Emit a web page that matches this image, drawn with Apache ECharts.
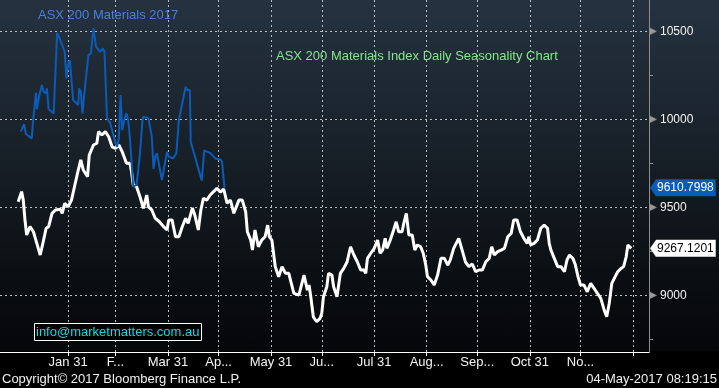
<!DOCTYPE html>
<html><head><meta charset="utf-8">
<script src="https://cdn.jsdelivr.net/npm/echarts@6/dist/echarts.min.js"></script>
<style>
html,body{margin:0;padding:0;background:#000;}
#c{width:719px;height:388px;background:linear-gradient(to bottom,#253240 0px,#1a232c 130px,#0c1115 260px,#050608 351px,#000 352px,#000 388px);}
</style></head><body><div id="c"></div>
<script>
// ---- data ----
const monthEnds = [31,59,90,120,151,181,212,243,273,304,334,365];
const monthLabels = ['Jan 31','F...','Mar 31','Ap...','May 31','Ju...','Jul 31','Aug...','Sep...','Oct 31','No...',''];
const yMajor = [9000,9500,10000,10500];
const yTicks = [8750,9000,9250,9500,9750,10000,10250,10500];

const blueDays = [3,4,5,6,9.5,10.5,12,12.5,14,15.5,16.5,18,18.5,19.5,22.5,24.5,26,29,30,31,32,34,37,37.5,38.5,39.5,41,43,44.5,46,46.5,47.5,50,51.5,52.5,54,56,59,60,61,62,63,64.5,65.5,66.5,67.5,69.5,71.5,73.5,75,75.5,78.5,80.5,81.5,82.5,83.5,86.5,89.5,90.5,93,95,96.5,97.5,100.5,101.5,103,103.5,110,111.5,115,118,121,122,123.5];
const blueVals = [9930,9939,9973,9917,9892,10015,10151,10057,10138,10195,10157,10148,10176,10057,10034,10492,10460,10384,10233,10309,10337,10110,10081,10176,10157,10034,10185,10365,10375,10517,10507,10413,10384,10403,10384,10006,9977,9864,9844,9892,10138,9939,10006,10034,9996,9901,9617,9627,9807,9996,10015,10007,9901,9718,9788,9807,9655,9816,9788,9778,9807,9996,9996,10185,10167,10167,9873,9652,9823,9809,9778,9772,9759,9610.7998];

const whiteDays = [1.5,3.5,4.5,5.5,6.5,8.5,10.5,12.5,14.5,15.5,16.5,18,19.5,21.5,23.5,26.5,27.5,29,31,33,35,37,38.5,40,42.5,43.5,46,48,49,51,53,55,57,59,61,63,64,65.5,67.5,68.5,69.5,71.5,73.5,75.5,77.5,78.5,80.5,82.5,85,87.5,89.5,90.5,92.5,94.5,96.5,98.5,100.5,102,104.5,106,108,109.5,111,113,115,117,119,121,123,125,127,129,132,134,136,137,139,140,141.5,143.5,145.5,147.5,149,150,151.5,153.5,155.5,157.5,159.5,161.5,162.5,164.5,167.5,168.5,170.5,172.5,173.5,174.5,176,178,180,181,182,184,185,187,188,190,192,194,196,198,200,202,204,206,207,208,210,212,214,215.5,217,218.5,219.5,221.5,223.5,225,226.5,228.5,229.5,231,232.5,234.5,236,237.5,239.5,241,242.5,243.5,245.5,247.5,249.5,251.5,253.5,255.5,257,259,262,264,266,268,270,272,274,276,278,280,281.5,283,285,287,289,291,293,294.5,296.5,298.5,300.5,302.5,303.5,304.5,306.5,308.5,310.5,312.5,314.5,315.5,316.5,318.5,320.5,322.5,324.5,326,327.5,329.5,331,332.5,334,336,338,340,342,344,346,348,349.5,351,352.5,354.5,356,358,359.5,361,362,364];
const whiteVals = [9532,9589,9541,9428,9343,9390,9361,9295,9229,9239,9314,9381,9390,9466,9485,9489,9466,9523,9503,9541,9627,9712,9769,9712,9674,9797,9854,9864,9930,9911,9930,9901,9844,9835,9854,9816,9807,9750,9750,9702,9627,9617,9560,9494,9570,9503,9485,9438,9418,9390,9371,9428,9428,9333,9333,9390,9438,9409,9496,9453,9371,9485,9551,9541,9570,9589,9608,9587,9604,9524,9541,9466,9541,9541,9475,9361,9314,9257,9371,9276,9314,9333,9399,9333,9314,9163,9106,9163,9125,9125,9087,9011,9002,9002,9115,9030,9059,8992,8878,8850,8869,8898,8992,9049,9125,9115,9049,8992,9125,9153,9191,9276,9229,9191,9144,9144,9125,9210,9239,9267,9314,9239,9257,9324,9267,9314,9371,9418,9361,9361,9409,9466,9343,9343,9257,9286,9276,9239,9172,9106,9087,9059,9115,9210,9210,9172,9201,9267,9324,9257,9189,9163,9178,9134,9144,9144,9191,9210,9276,9229,9248,9257,9267,9333,9352,9428,9428,9361,9324,9295,9333,9286,9295,9314,9381,9399,9381,9295,9257,9210,9163,9163,9134,9201,9229,9210,9172,9106,9059,9059,9020,9068,9040,9011,8983,8916,8878,8955,9068,9106,9134,9153,9163,9219,9286,9267.1201];

const titleBlue = 'ASX 200 Materials 2017';
const titleGreen = 'ASX 200 Materials Index Daily Seasonality Chart';
const emailText = 'info@marketmatters.com.au';
const copyText = 'Copyright\u00A9 2017 Bloomberg Finance L.P.';
const stampText = '04-May-2017 08:19:15';

// ---- helpers ----
const FONT = '"Liberation Sans", Arial, sans-serif';
const BLUE = '#0a5cb8';
function arrowImg(color, w, h, dir) {
  const c = document.createElement('canvas');
  c.width = w; c.height = h;
  const g = c.getContext('2d');
  g.fillStyle = color;
  g.beginPath();
  if (dir === 'left') { g.moveTo(w, 0); g.lineTo(0, h / 2); g.lineTo(w, h); }
  else { g.moveTo(0, 0); g.lineTo(w, h / 2); g.lineTo(0, h); }
  g.closePath(); g.fill();
  return c;
}
const blueArrow = arrowImg(BLUE, 6, 17, 'left');
const whiteArrow = arrowImg('#ffffff', 6, 17, 'left');
const tickArrow = arrowImg('#9a9a9a', 7, 7, 'right');

const chart = echarts.init(document.getElementById('c'), null, {renderer: 'canvas'});
const gridLine = {show: true, lineStyle: {color: '#b8bcc0', width: 1, type: [2, 3]}};

function valueBox(arrow, bg, fg, val) {
  return {
    silent: true, symbol: 'none',
    lineStyle: {color: 'rgba(0,0,0,0)', width: 0, opacity: 1},
    data: [{yAxis: val}],
    label: {
      show: true, position: 'end', distance: 1, opacity: 1,
      formatter: () => '{a|}{b|' + val.toFixed(4) + '}',
      rich: {
        a: {width: 6, height: 17, backgroundColor: {image: arrow}},
        b: {backgroundColor: bg, color: fg, fontSize: 12, fontFamily: FONT, height: 17, lineHeight: 17, padding: [0, 2, 0, 1]}
      }
    }
  };
}

chart.setOption({
  backgroundColor: 'transparent',
  animation: false,
  grid: {left: 0, right: 70, top: 0, bottom: 36, containLabel: false, outerBoundsMode: 'none'},
  title: [
    {text: titleBlue, left: 38, top: 9, padding: 0, textStyle: {color: '#4a80d8', fontSize: 13, fontWeight: 'normal', fontFamily: FONT}},
    {text: titleGreen, left: 276, top: 50, padding: 0, textStyle: {color: '#86e58c', fontSize: 13, fontWeight: 'normal', fontFamily: FONT}},
    {text: emailText, left: 34, top: 323, padding: [3, 2, 2, 2], borderColor: '#ffffff', borderWidth: 1, backgroundColor: '#000000',
      textStyle: {color: '#1cd4e4', fontSize: 13, fontWeight: 'normal', fontFamily: FONT}},
    {text: copyText, left: 2, top: 373, padding: 0, textStyle: {color: '#f0f0f0', fontSize: 13, fontWeight: 'normal', fontFamily: FONT}},
    {text: stampText, right: 2, top: 373, padding: 0, textStyle: {color: '#f0f0f0', fontSize: 13, fontWeight: 'normal', fontFamily: FONT}}
  ],
  xAxis: {
    type: 'value', min: -9.27, max: 374.5,
    axisLine: {show: true, onZero: false, lineStyle: {color: '#ffffff', width: 1}},
    axisTick: {show: true, length: 4, lineStyle: {color: '#ffffff'}, customValues: monthEnds},
    axisLabel: {show: true, customValues: monthEnds, margin: 4, color: '#f4f4f4', fontSize: 13, fontFamily: FONT,
      formatter: v => monthLabels[monthEnds.indexOf(Math.round(v))] || ''},
    splitLine: gridLine
  },
  yAxis: [
    {
      type: 'value', position: 'right', min: 8678, max: 10678,
      axisLine: {show: true, onZero: false, lineStyle: {color: '#8e8e8e', width: 1}},
      axisTick: {show: false, customValues: yMajor},
      axisLabel: {show: true, customValues: yMajor, margin: 1,
        formatter: v => '{t|}{v|' + v + '}',
        rich: {
          t: {width: 7, height: 7, backgroundColor: {image: tickArrow}},
          v: {color: '#f2f2f2', fontSize: 12, fontFamily: FONT, padding: [0, 0, 0, 3]}
        }},
      splitLine: gridLine
    },
    {
      type: 'value', position: 'right', min: 8678, max: 10678,
      axisLine: {show: true, onZero: false, lineStyle: {color: '#8e8e8e', width: 1}},
      axisTick: {show: true, customValues: yTicks, length: 4, lineStyle: {color: '#8e8e8e'}},
      axisLabel: {show: false},
      splitLine: {show: false}
    }
  ],
  series: [
    {
      name: 'Seasonality', type: 'line', yAxisIndex: 0, showSymbol: false, symbol: 'none',
      lineStyle: {color: '#ffffff', width: 3}, z: 3,
      data: whiteDays.map((d, i) => [d, whiteVals[i]]),
      markLine: valueBox(whiteArrow, '#ffffff', '#000000', whiteVals[whiteVals.length - 1])
    },
    {
      name: '2017', type: 'line', yAxisIndex: 0, showSymbol: false, symbol: 'none',
      lineStyle: {color: BLUE, width: 2}, z: 4,
      data: blueDays.map((d, i) => [d, blueVals[i]]),
      markLine: valueBox(blueArrow, BLUE, '#ffffff', blueVals[blueVals.length - 1])
    }
  ]
});
</script></body></html>
